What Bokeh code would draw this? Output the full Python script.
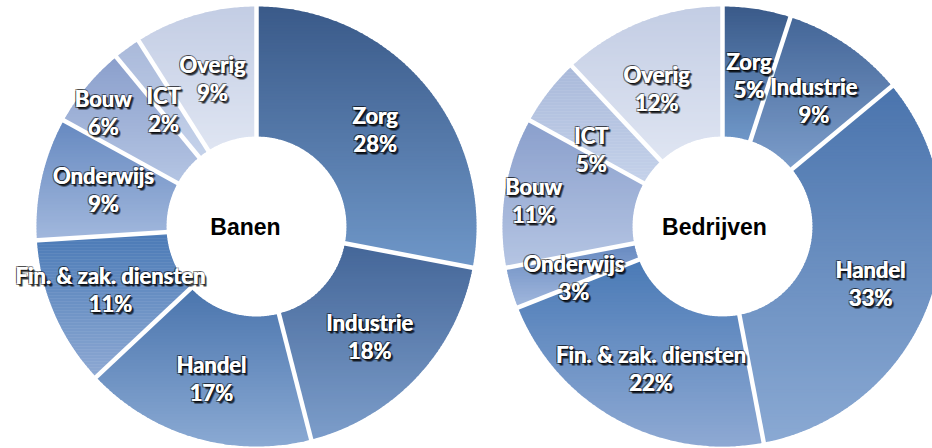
import numpy as np
from bokeh.plotting import figure
from bokeh.models import Range1d, ColumnDataSource
from bokeh.core.properties import value
from bokeh.embed import file_html
from bokeh.resources import INLINE

# ---------------- data ----------------
categories = ["Zorg", "Industrie", "Handel", "Fin. & zak. diensten",
              "Onderwijs", "Bouw", "ICT", "Overig"]
banen = [28, 18, 17, 11, 9, 6, 2, 9]
bedrijven = [5, 9, 33, 22, 3, 11, 5, 12]
chart_titles = ["Banen", "Bedrijven"]

# ---------------- styles ----------------
top_colors = ["#3a5a89", "#446698", "#4a74ad", "#4a7ab6",
              "#6689c0", "#8a9fcc", "#a9b9da", "#c3cde4"]
bottom_colors = ["#6f97c8", "#7c9dca", "#8aa9d3", "#8ea9d3",
                 "#a2b8dd", "#b5c5e3", "#c5d2ea", "#dfe5f2"]
# label nudges (dx right, dy down) in pixels
nudges = [
    {"Zorg": (-1, 2), "Industrie": (0, 4), "Handel": (-2, 3),
     "Fin. & zak. diensten": (-4, 1), "Onderwijs": (-2, -3), "Bouw": (-34, -15),
     "ICT": (-2, 8), "Overig": (-1, 1)},
    {"Zorg": (2, 2), "Industrie": (4, 2), "Handel": (2, 4),
     "Fin. & zak. diensten": (3, 6), "Onderwijs": (0, 8), "Bouw": (-36, -2),
     "ICT": (-9, 18), "Overig": (-9, 6)},
]
centers = [(256, 222), (722, 222)]
title_pos = [(245, 222), (714, 222)]
R_OUT, R_IN = 220, 90
LABEL_FONT = "Lato"
LABEL_SIZE = "22px"

W, H = 932, 448
p = figure(width=W, height=H, x_range=Range1d(0, W), y_range=Range1d(0, H),
           output_backend="svg", toolbar_location=None, min_border=0)
p.axis.visible = False
p.grid.visible = False
p.outline_line_color = None
p.background_fill_color = "white"
p.border_fill_color = "white"


def hex2rgb(h):
    h = h.lstrip("#")
    return np.array([int(h[i:i + 2], 16) for i in (0, 2, 4)], dtype=float)


def rgb2hex(c):
    c = np.clip(np.round(c), 0, 255).astype(int)
    return "#%02x%02x%02x" % tuple(c)


def clip_half(pts, inside, inter):
    out = []
    n = len(pts)
    for i in range(n):
        cur = pts[i]
        prev = pts[i - 1]
        ci, pi_ = inside(cur), inside(prev)
        if ci:
            if not pi_:
                out.append(inter(prev, cur))
            out.append(cur)
        elif pi_:
            out.append(inter(prev, cur))
    return out


def clip_band(pts, y0, y1):
    def inter_y(yc):
        def f(a, b):
            t = (yc - a[1]) / (b[1] - a[1])
            return (a[0] + t * (b[0] - a[0]), yc)
        return f
    pts = clip_half(pts, lambda q: q[1] >= y0, inter_y(y0))
    if not pts:
        return pts
    pts = clip_half(pts, lambda q: q[1] <= y1, inter_y(y1))
    return pts


xs_all, ys_all, cols_all = [], [], []
sep_x0, sep_y0, sep_x1, sep_y1 = [], [], [], []
lab = {"x": [], "y": [], "t": []}

for k, vals in enumerate([banen, bedrijven]):
    cx, cy = centers[k]
    total = float(sum(vals))
    cum = 0.0
    for i, v in enumerate(vals):
        a0 = np.pi / 2 - 2 * np.pi * cum / total
        a1 = np.pi / 2 - 2 * np.pi * (cum + v) / total
        n = max(8, int(abs(a1 - a0) * 180 / np.pi * 2))
        ang = np.linspace(a0, a1, n)
        outer = [(cx + R_OUT * np.cos(a), cy + R_OUT * np.sin(a)) for a in ang]
        inner = [(cx + R_IN * np.cos(a), cy + R_IN * np.sin(a)) for a in ang[::-1]]
        poly = outer + inner
        ys = [q[1] for q in poly]
        ymin, ymax = min(ys), max(ys)
        ctop, cbot = hex2rgb(top_colors[i]), hex2rgb(bottom_colors[i])
        step = 3.0
        y = ymax
        while y > ymin:
            yb = max(ymin, y - step)
            piece = clip_band(poly, yb - 0.7, y)
            if len(piece) >= 3:
                t = ((ymax - (y + yb) / 2) / (ymax - ymin))
                xs_all.append([q[0] for q in piece])
                ys_all.append([q[1] for q in piece])
                cols_all.append(rgb2hex(ctop + (cbot - ctop) * t))
            y = yb
        # separator at start angle
        sep_x0.append(cx + (R_IN - 2) * np.cos(a0))
        sep_y0.append(cy + (R_IN - 2) * np.sin(a0))
        sep_x1.append(cx + (R_OUT + 3) * np.cos(a0))
        sep_y1.append(cy + (R_OUT + 3) * np.sin(a0))
        # label
        am = (a0 + a1) / 2
        rm = (R_OUT + R_IN) / 2
        dx, dy = nudges[k][categories[i]]
        lx = cx + rm * np.cos(am) + dx
        ly = cy + rm * np.sin(am) - dy
        lab["x"] += [lx, lx]
        lab["y"] += [ly + 14, ly - 14]
        lab["t"] += [categories[i], f"{v}%"]
        cum += v

p.patches(xs=xs_all, ys=ys_all, fill_color=cols_all, line_color=None)
p.segment(x0=sep_x0, y0=sep_y0, x1=sep_x1, y1=sep_y1, line_color="white", line_width=4.5)

src = ColumnDataSource(lab)
for ox, oy, al in [(2, 2, 0.5), (1, 1, 0.5), (-1, -1, 0.45), (1, -1, 0.45), (-1, 1, 0.45),
                   (3, 2, 0.25), (2, 3, 0.25), (3, 3, 0.2)]:
    p.text(x="x", y="y", text="t", source=src, x_offset=ox, y_offset=oy,
           text_font=value(LABEL_FONT), text_font_style="bold", text_font_size=LABEL_SIZE,
           text_color="black", text_alpha=al, text_align="center", text_baseline="middle")
for ox in (0, 0.6):
    p.text(x="x", y="y", text="t", source=src, x_offset=ox,
           text_font=value(LABEL_FONT), text_font_style="bold", text_font_size=LABEL_SIZE,
           text_color="white", text_align="center", text_baseline="middle")

p.text(x=[c[0] for c in title_pos], y=[c[1] for c in title_pos], text=chart_titles,
       text_font=value("Liberation Sans"), text_font_style="bold", text_font_size="23px",
       text_color="black", text_align="center", text_baseline="middle")

open("out.html", "w").write(file_html(p, INLINE))
